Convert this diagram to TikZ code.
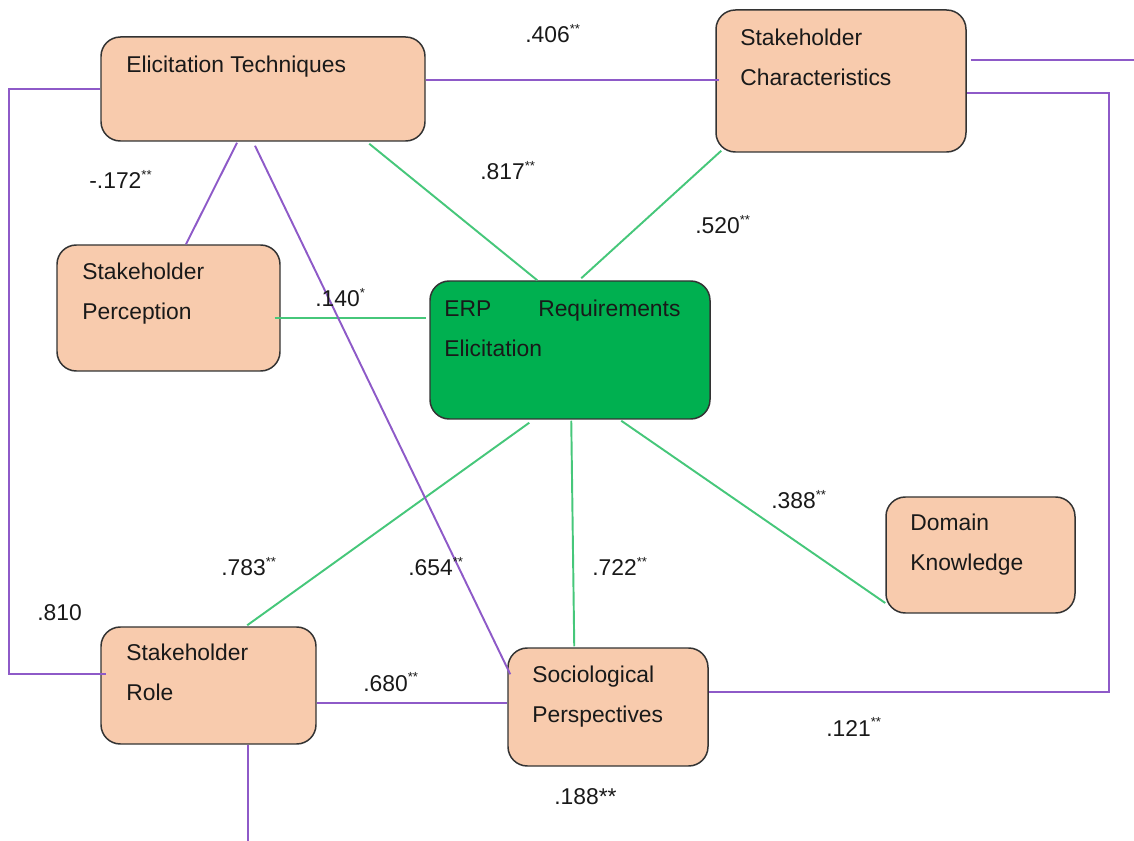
\documentclass[tikz,border=0pt]{standalone}
\usepackage{fontspec}
\setmainfont{Liberation Sans}
\usetikzlibrary{fit,calc}
\definecolor{peach}{HTML}{F8CBAD}
\definecolor{erpgreen}{HTML}{00B050}
\definecolor{linkgreen}{HTML}{46C77A}
\definecolor{linkpurple}{HTML}{8E5AC8}
% small raised significance stars
\newcommand\sigmark[1]{\raisebox{0.4em}{\fontsize{7.5}{7.5}\selectfont #1}}
\newcommand\twolines[2]{\parbox[t]{7cm}{#1\\#2}}

\begin{document}
\begin{tikzpicture}[x=0.02cm,y=-0.02cm,
  box/.style={draw=black!80, line width=0.85pt, rounded corners=11pt, fill=peach, inner sep=0pt},
  erpbox/.style={box, fill=erpgreen},
  txt/.style={anchor=base west, inner sep=0pt, font=\fontsize{13}{22.7}\selectfont, text=black!90},
  val/.style={anchor=base west, inner sep=0pt, font=\fontsize{13}{15}\selectfont, text=black!90},
  glink/.style={draw=linkgreen, line width=1.1pt},
  plink/.style={draw=linkpurple, line width=1.1pt}]

\useasboundingbox (0,0) rectangle (1134,841);

% ---- boxes ----
\node[box, fit={(101,37) (425,141)}] (et) {};
\node[box, fit={(716,10) (966,152)}] (sc) {};
\node[box, fit={(57,245) (280,371)}] (sp) {};
\node[erpbox, fit={(430,281) (710,419)}] (erp) {};
\node[box, fit={(886,497) (1075,613)}] (dk) {};
\node[box, fit={(101,627) (316,744)}] (sr) {};
\node[box, fit={(508,648) (708,766)}] (so) {};

% ---- box texts ----
\node[txt] (et-t) at (126,73) {Elicitation Techniques};
\node[txt] (sc-t) at (740,46) {\twolines{Stakeholder}{Characteristics}};
\node[txt] (sp-t) at (82,280) {\twolines{Stakeholder}{Perception}};
\node[txt] (erp-t) at (444,317) {\parbox[t]{7cm}{\makebox[134.4pt][s]{ERP\hfill Requirements}\\Elicitation}};
\node[txt] (dk-t) at (910,531) {\twolines{Domain}{Knowledge}};
\node[txt] (sr-t) at (126,661) {\twolines{Stakeholder}{Role}};
\node[txt] (so-t) at (532,683) {\twolines{Sociological}{Perspectives}};

% ---- green links to the central construct ----
\draw[glink] ($(et.south west)+(269,2)$) -- ($(erp.north west)+(108,0)$);
\draw[glink] ($(sc.south west)+(6,-2)$) -- ($(erp.north west)+(152,-2)$);
\draw[glink] ($(sp.east)+(-6,10)$) -- ($(erp.west)+(-3,-32)$);
\draw[glink] ($(erp.south west)+(100,3)$) -- ($(sr.north west)+(147,-1)$);
\draw[glink] ($(erp.south west)+(142,1)$) -- ($(so.north west)+(67,-1)$);
\draw[glink] ($(erp.south west)+(192,1)$) -- ($(dk.west)+(0,48)$);

% ---- purple links between factors ----
\draw[plink] ($(et.east)+(0,-9)$) -- ($(sc.west)+(4,-1)$);
\draw[plink] ($(et.south)+(-26,1)$) -- ($(sp.north)+(17.5,0)$);
\draw[plink] ($(et.south)+(-8,4)$) -- ($(so.north west)+(3,27)$);
\draw[plink] ($(sr.east)+(0,17.5)$) -- ($(so.west)+(0,-4)$);
\draw[plink] (et.west) -- ++(-91,0) |- ($(sr.west)+(6,-11.5)$);
\draw[plink] ($(sc.east)+(4,-21)$) -- ++(164,0) coordinate (scout);
\draw[plink] ($(sc.east)+(0,12)$) -- ++(142,0) |- ($(so.east)+(0,-15)$);
\draw[plink] ($(sr.south)+(39.5,0)$) -- ++(0,100) coordinate (srout);

% ---- coefficients ----
\node[val] (v406) at (525,43) {.406\sigmark{**}};
\node[val] (v817) at (480,180) {.817\sigmark{**}};
\node[val] (v172) at (89,189) {-.172\sigmark{**}};
\node[val] (v520) at (695,234) {.520\sigmark{**}};
\node[val] (v140) at (315,307) {.140\sigmark{*}};
\node[val] (v783) at (221,576) {.783\sigmark{**}};
\node[val] (v654) at (408,576) {.654\sigmark{**}};
\node[val] (v722) at (592,576) {.722\sigmark{**}};
\node[val] (v388) at (771,509) {.388\sigmark{**}};
\node[val] (v810) at (37,621) {.810};
\node[val] (v680) at (363,691) {.680\sigmark{**}};
\node[val] (v121) at (826,736) {.121\sigmark{**}};
\node[val] (v188) at (554,804) {.188**};
\end{tikzpicture}
\end{document}
